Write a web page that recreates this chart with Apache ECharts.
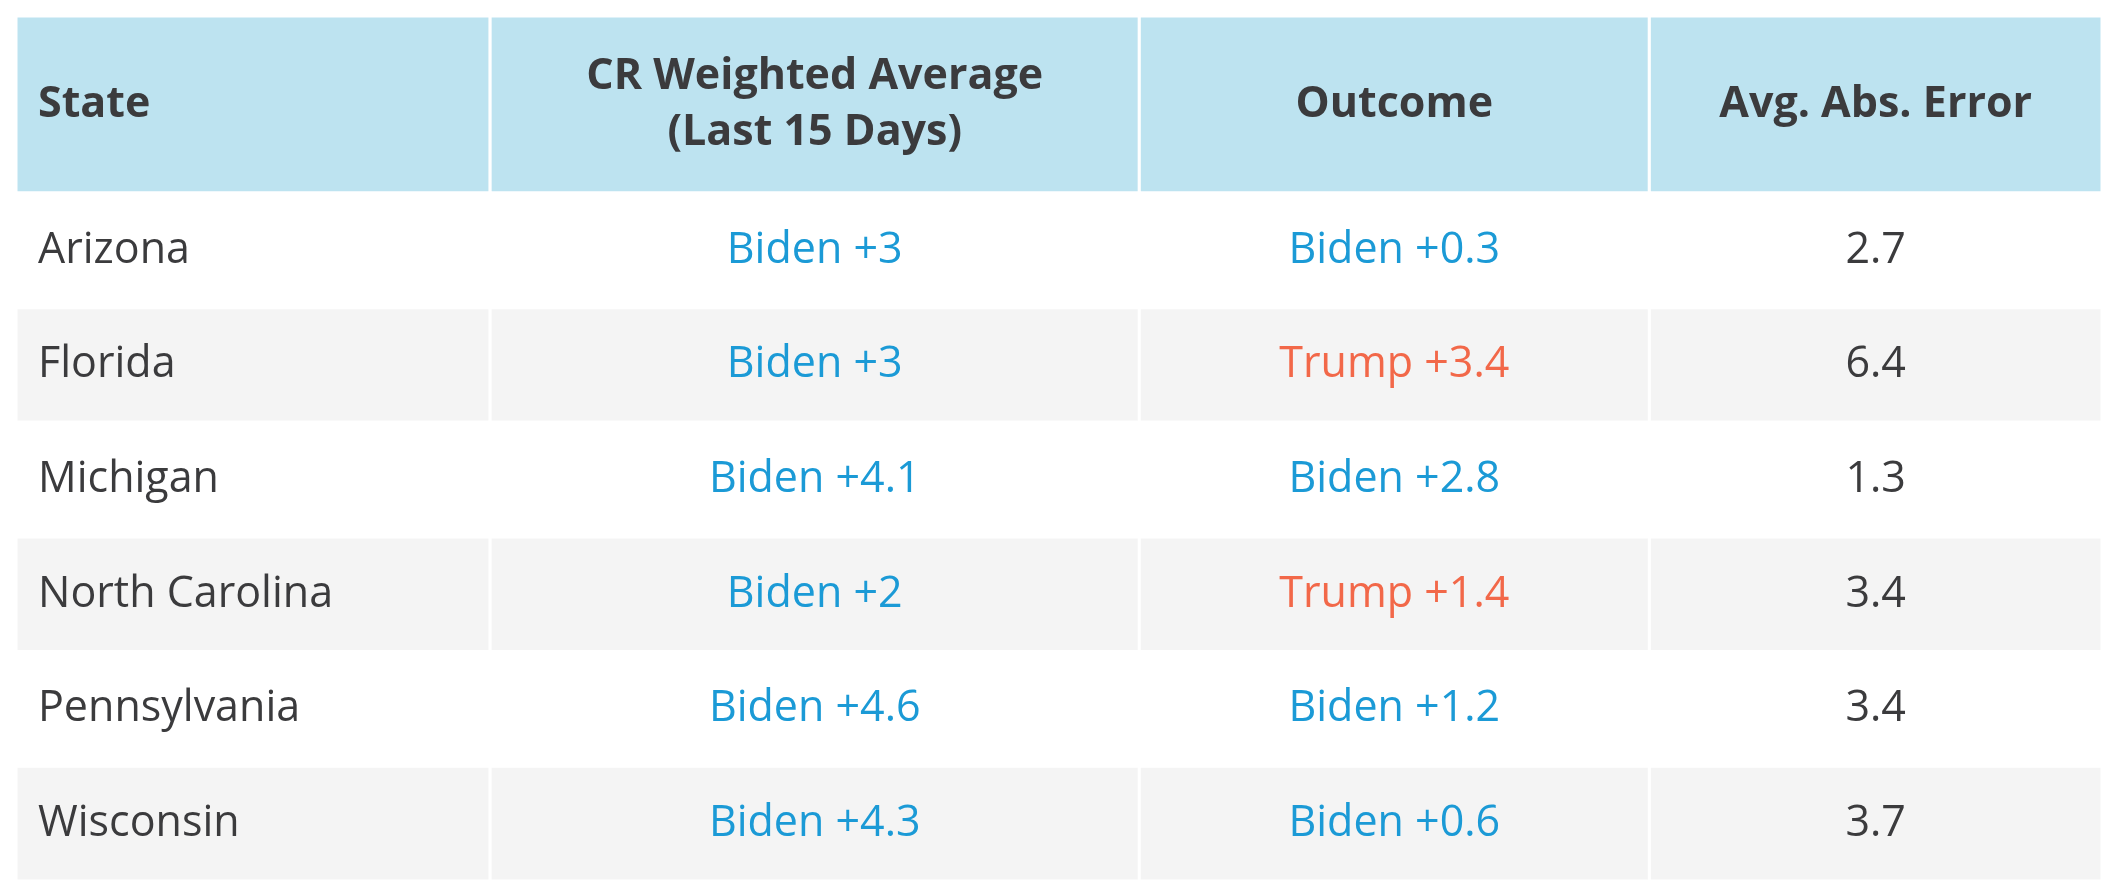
<!DOCTYPE html>
<html><head><meta charset="utf-8">
<script src="https://cdn.jsdelivr.net/npm/echarts@6/dist/echarts.min.js"></script>
<style>html,body{margin:0;padding:0;background:#fff}#c{width:2126px;height:896px}</style>
</head><body><div id="c"></div>
<script>
var headers = ['State', 'CR Weighted Average\n(Last 15 Days)', 'Outcome', 'Avg. Abs. Error'];
var states = ['Arizona', 'Florida', 'Michigan', 'North Carolina', 'Pennsylvania', 'Wisconsin'];
var average = ['Biden +3', 'Biden +3', 'Biden +4.1', 'Biden +2', 'Biden +4.6', 'Biden +4.3'];
var outcome = ['Biden +0.3', 'Trump +3.4', 'Biden +2.8', 'Trump +1.4', 'Biden +1.2', 'Biden +0.6'];
var errors = ['2.7', '6.4', '1.3', '3.4', '3.4', '3.7'];

// column edges as fraction of table width
var edges = [0, 0.2273, 0.5385, 0.7830, 1];
var BLUE = '#1b9ad6', RED = '#f26849', DARK = '#3b3b3d';
var font = '"Open Sans", "Noto Sans", sans-serif';

function cells(api, row, texts, colors, bg, bold, size) {
  var children = [];
  var h = api.size([0, 1])[1];
  for (var i = 0; i < 4; i++) {
    var x0 = api.coord([edges[i], row])[0];
    var x1 = api.coord([edges[i + 1], row])[0];
    var cy = api.coord([0, row])[1];
    children.push({type: 'rect', shape: {x: x0, y: cy - h / 2, width: x1 - x0, height: h},
      style: {fill: bg, stroke: '#ffffff', lineWidth: 3}});
    children.push({type: 'text', style: {
      x: i === 0 ? x0 + 22 : (x0 + x1) / 2, y: cy, text: texts[i],
      align: i === 0 ? 'left' : 'center', verticalAlign: 'middle',
      fill: colors[i], font: (bold ? 'bold ' : '') + size + 'px ' + font, lineHeight: size * 1.3}});
  }
  return {type: 'group', children: children};
}

var chart = echarts.init(document.getElementById('c'));
chart.setOption({
  animation: false,
  grid: [
    {left: 16, right: 24, top: 16, height: 177},
    {left: 16, right: 24, top: 193, height: 688}
  ],
  xAxis: [
    {gridIndex: 0, type: 'value', min: 0, max: 1, show: false},
    {gridIndex: 1, type: 'value', min: 0, max: 1, show: false}
  ],
  yAxis: [
    {gridIndex: 0, type: 'category', data: ['h'], show: false},
    {gridIndex: 1, type: 'category', data: states, inverse: true, show: false}
  ],
  series: [
    {type: 'custom', xAxisIndex: 0, yAxisIndex: 0, data: [[0, 0]],
      renderItem: function (p, api) {
        return cells(api, 0, headers, [DARK, DARK, DARK, DARK], '#bde3f0', true, 43);
      }},
    {type: 'custom', xAxisIndex: 1, yAxisIndex: 1,
      data: states.map(function (s, i) { return [0, i]; }),
      renderItem: function (p, api) {
        var i = p.dataIndex;
        var cols = [DARK, average[i].indexOf('Trump') === 0 ? RED : BLUE,
          outcome[i].indexOf('Trump') === 0 ? RED : BLUE, DARK];
        return cells(api, i, [states[i], average[i], outcome[i], errors[i]], cols,
          i % 2 ? '#f4f4f4' : '#ffffff', false, 43);
      }}
  ]
});
</script></body></html>
